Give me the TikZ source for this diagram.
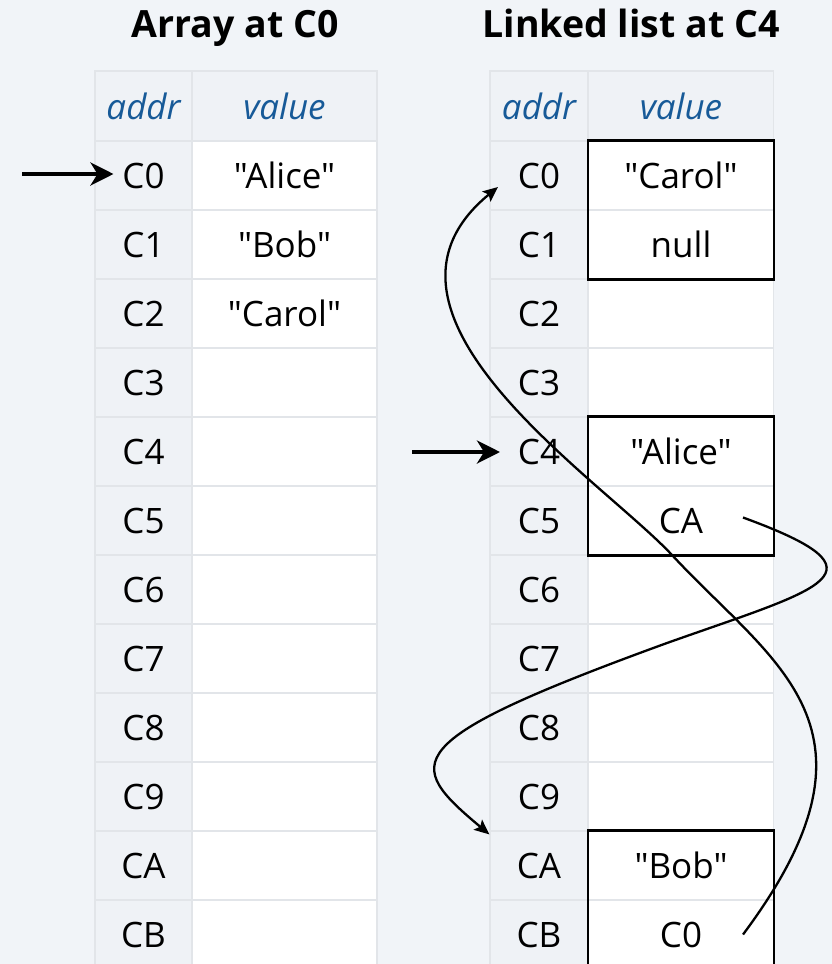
\documentclass[tikz,border=0pt]{standalone}
\usepackage{fontspec}
\setmainfont{Open Sans}[Ligatures=TeXOff]
\usetikzlibrary{arrows.meta,calc}
\definecolor{pagebg}{HTML}{F1F4F8}
\definecolor{addrbg}{HTML}{EFF2F6}
\definecolor{gridline}{HTML}{E2E5E9}
\definecolor{headblue}{HTML}{175A98}
\begin{document}
\begin{tikzpicture}[x=1pt,y=-1pt,
  cellfont/.style={font=\fontsize{35}{37}\selectfont},
  cellbase/.style={inner sep=0pt, minimum height=69pt, draw=gridline, line width=1.2pt, cellfont},
  addrcell/.style={cellbase, minimum width=97pt, fill=addrbg},
  valcell/.style={cellbase, minimum width=185pt, fill=white},
  headcell/.style={cellbase, minimum height=70pt, fill=addrbg, text=headblue,
    font=\fontsize{35}{37}\selectfont\itshape},
  title/.style={font=\fontsize{37.5}{40}\selectfont\bfseries},
  membox/.style={draw=black, line width=2.4pt},
  pointer/.style={line width=4pt, -{Stealth[length=23pt,width=23pt,inset=7pt]}},
  link/.style={line width=2.3pt, -{Stealth[length=15pt,width=13pt,inset=3pt]}}
]
\useasboundingbox (0,0) rectangle (832,964);
\clip (0,0) rectangle (832,964);
\fill[pagebg] (0,0) rectangle (832,964);

% titles
\node[title, anchor=base] (ltitle) at (235,37) {Array at C0};
\node[title, anchor=base] (rtitle) at (631,37) {Linked list at C4};

% column headers
\node[headcell, minimum width=97pt] (lha) at (143.5,106) {addr};
\node[headcell, minimum width=185pt] (lhv) at (284.5,106) {value};
\node[headcell, minimum width=98pt] (rha) at (539,106) {addr};
\node[headcell, minimum width=185pt] (rhv) at (681,106) {value};

% memory cells, addresses C0..CB
\foreach \i/\a in {0/C0,1/C1,2/C2,3/C3,4/C4,5/C5,6/C6,7/C7,8/C8,9/C9,10/CA,11/CB} {
  \node[addrcell] (la\i) at (143.5,175.5+69*\i) {\a};
  \node[valcell]  (lv\i) at (284.5,175.5+69*\i) {};
  \node[addrcell, minimum width=98pt] (ra\i) at (539,175.5+69*\i) {\a};
  \node[valcell]  (rv\i) at (681,175.5+69*\i) {};
}

% array contents
\node[cellfont] (x0) at (lv0) {"Alice"};
\node[cellfont] (x1) at (lv1) {"Bob"};
\node[cellfont] (x2) at (lv2) {"Carol"};

% linked list contents
\node[cellfont] (n0) at (rv0) {"Carol"};
\node[cellfont] (n1) at (rv1) {null};
\node[cellfont] (n4) at (rv4) {"Alice"};
\node[cellfont] (n5) at (rv5) {CA};
\node[cellfont] (n10) at (rv10) {"Bob"};
\node[cellfont] (n11) at (rv11) {C0};

% list nodes
\draw[membox] (rv0.north west) rectangle (rv1.south east);
\draw[membox] (rv4.north west) rectangle (rv5.south east);
\draw[membox] (rv10.north west) rectangle (rv11.south east);

% head pointers
\coordinate (lptr) at (22,174);
\coordinate (rptr) at (412,452);
\draw[pointer] (lptr) -- ($(la0.center)+(-30,-1.5)$);
\draw[pointer] (rptr) -- ($(ra4.center)+(-39,0.5)$);

% next links
\coordinate (s1) at ($(rv11.center)+(62,0)$);
\coordinate (e1) at ($(ra0.center)+(-41,11.5)$);
\coordinate (s2) at ($(rv5.center)+(62,-3)$);
\coordinate (e2) at ($(ra10.north west)+(0,4)$);
\draw[link] (s1) .. controls (898,727) and (774,665) .. (672,555)
                 .. controls (600,478) and (344,313) .. (e1);
\draw[link] (s2) .. controls (895,573) and (822,588) .. (667,643)
                 .. controls (395,742) and (404,763) .. (e2);
\end{tikzpicture}
\end{document}
